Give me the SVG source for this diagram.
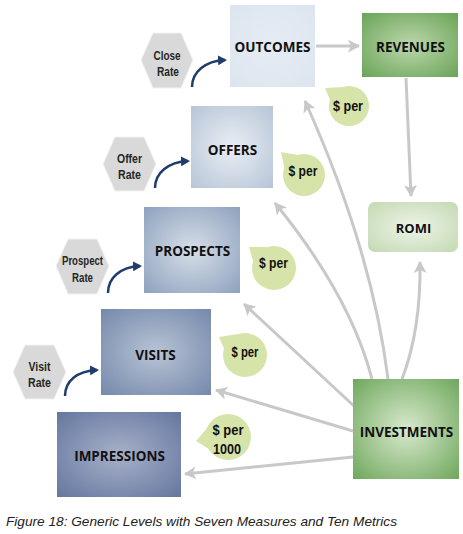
<svg xmlns="http://www.w3.org/2000/svg" width="463" height="534" viewBox="0 0 463 534">
<style>
.lbl{font-family:"Open Sans","Liberation Sans",sans-serif;font-weight:bold;font-size:13.5px;fill:#111;text-anchor:middle}
.hx{fill:#d9d9d9;stroke:#f2f2f2;stroke-width:1}
.ht{font-family:"Liberation Sans","DejaVu Sans Condensed",sans-serif;font-weight:bold;font-size:13.5px;fill:#262626;text-anchor:middle}
.bub{fill:#d6e4a9}
.bt{font-family:"Liberation Sans","DejaVu Sans Condensed",sans-serif;font-weight:bold;font-size:15px;fill:#111;text-anchor:middle}
.gc{fill:none;stroke:#c8c8c8;stroke-width:3;marker-end:url(#ga)}
.bc{fill:none;stroke:#1f3c6b;stroke-width:2.5;marker-end:url(#ba)}
.cap{font-family:"Liberation Sans",sans-serif;font-style:italic;font-size:13px;fill:#222}
</style>
<defs>
<marker id="ga" markerUnits="userSpaceOnUse" markerWidth="14" markerHeight="14" refX="11" refY="7" orient="auto" viewBox="0 0 14 14">
<path d="M0,0.5 L12,7 L0,13.5 L3,7 Z" fill="#c8c8c8"/>
</marker>
<marker id="ba" markerUnits="userSpaceOnUse" markerWidth="10" markerHeight="10" refX="7" refY="5" orient="auto" viewBox="0 0 10 10">
<path d="M0,0 L9,5 L0,10 Z" fill="#1f3c6b"/>
</marker>
<radialGradient id="gOut" cx="0.5" cy="0.5" r="0.7"><stop offset="0" stop-color="#e6ecf4"/><stop offset="1" stop-color="#dce5ef"/></radialGradient>
<radialGradient id="gOff" cx="0.5" cy="0.5" r="0.7"><stop offset="0" stop-color="#e9eef4"/><stop offset="1" stop-color="#b7c5d7"/></radialGradient>
<radialGradient id="gPro" cx="0.5" cy="0.5" r="0.7"><stop offset="0" stop-color="#d7dee8"/><stop offset="1" stop-color="#8ea2be"/></radialGradient>
<radialGradient id="gVis" cx="0.5" cy="0.5" r="0.7"><stop offset="0" stop-color="#b8c3d5"/><stop offset="1" stop-color="#7589ab"/></radialGradient>
<radialGradient id="gImp" cx="0.5" cy="0.5" r="0.7"><stop offset="0" stop-color="#a7b0c9"/><stop offset="1" stop-color="#65779f"/></radialGradient>
<radialGradient id="gRev" cx="0.5" cy="0.5" r="0.7"><stop offset="0" stop-color="#bcd7ab"/><stop offset="1" stop-color="#6aa458"/></radialGradient>
<radialGradient id="gInv" cx="0.5" cy="0.5" r="0.7"><stop offset="0" stop-color="#d9e9cd"/><stop offset="1" stop-color="#6fa85d"/></radialGradient>
<radialGradient id="gRomi" cx="0.5" cy="0.5" r="0.7"><stop offset="0" stop-color="#eef4e8"/><stop offset="1" stop-color="#c3d9b2"/></radialGradient>
</defs>

<g id="connectors">
<path class="gc" d="M316,46 L359,46"/>
<path class="gc" d="M406,78 L411,196"/>
<path class="gc" d="M402,379 Q421,330 420,262"/>
<path class="gc" d="M388,379 Q372,250 305,101"/>
<path class="gc" d="M372,379 Q350,295 275,203"/>
<path class="gc" d="M354,406 L244,304"/>
<path class="gc" d="M353,431 L216,390"/>
<path class="gc" d="M353,457 L185,474"/>
<path class="bc" d="M192,87 C192,72 205,61 225,60"/>
<path class="bc" d="M155,188 C155,173 168,162 188,161"/>
<path class="bc" d="M108,293 C108,278 120,267 140,266"/>
<path class="bc" d="M65,396 C65,381 77,371 97,370"/>
</g>

<g id="outcomes"><rect x="230" y="5" width="85" height="82" fill="url(#gOut)"/><text class="lbl" x="272.5" y="52">OUTCOMES</text></g>
<g id="revenues"><rect x="362" y="13" width="96" height="64" fill="url(#gRev)"/><text class="lbl" x="410.5" y="52">REVENUES</text></g>
<g id="romi"><rect x="368" y="202" width="90" height="50" rx="7" fill="url(#gRomi)"/><text class="lbl" x="413.5" y="233" style="font-size:13px">ROMI</text></g>
<g id="offers"><rect x="191" y="106" width="82" height="82" fill="url(#gOff)"/><text class="lbl" x="232.5" y="155">OFFERS</text></g>
<g id="prospects"><rect x="144" y="207" width="96" height="86" fill="url(#gPro)"/><text class="lbl" x="192.5" y="256">PROSPECTS</text></g>
<g id="visits"><rect x="101" y="309" width="110" height="86" fill="url(#gVis)"/><text class="lbl" x="155.5" y="360">VISITS</text></g>
<g id="impressions"><rect x="57" y="412" width="124" height="85" fill="url(#gImp)"/><text class="lbl" x="119.5" y="461">IMPRESSIONS</text></g>
<g id="investments"><rect x="353" y="379" width="106" height="100" fill="url(#gInv)"/><text class="lbl" x="406.5" y="437">INVESTMENTS</text></g>

<g id="close-rate"><polygon class="hx" points="141,60 153,33 181,33 193,60 181,88 153,88"/><text class="ht" x="167" y="60" textLength="27" lengthAdjust="spacingAndGlyphs">Close</text><text class="ht" x="168" y="76" textLength="22" lengthAdjust="spacingAndGlyphs">Rate</text></g>
<g id="offer-rate"><polygon class="hx" points="103,164 115,137 144,137 156,164 144,191 115,191"/><text class="ht" x="129.5" y="163" textLength="25" lengthAdjust="spacingAndGlyphs">Offer</text><text class="ht" x="129.5" y="179" textLength="23" lengthAdjust="spacingAndGlyphs">Rate</text></g>
<g id="prospect-rate"><polygon class="hx" points="56,266 68,239 97,239 109,266 97,294 68,294"/><text class="ht" x="82.5" y="265" textLength="41" lengthAdjust="spacingAndGlyphs">Prospect</text><text class="ht" x="82.5" y="282" textLength="21" lengthAdjust="spacingAndGlyphs">Rate</text></g>
<g id="visit-rate"><polygon class="hx" points="13,372 25,345 54,345 66,372 54,399 25,399"/><text class="ht" x="39.5" y="371" textLength="22" lengthAdjust="spacingAndGlyphs">Visit</text><text class="ht" x="39.5" y="387" textLength="23" lengthAdjust="spacingAndGlyphs">Rate</text></g>

<g id="bubble-outcomes"><circle class="bub" cx="349" cy="106" r="20"/><path class="bub" d="M331,102 L325,88 L343,87 Z"/><text class="bt" x="348" y="111" textLength="30" lengthAdjust="spacingAndGlyphs">$ per</text></g>
<g id="bubble-offers"><circle class="bub" cx="304" cy="175" r="21"/><path class="bub" d="M285,171 L281,152 L298,155 Z"/><text class="bt" x="303" y="176" textLength="29" lengthAdjust="spacingAndGlyphs">$ per</text></g>
<g id="bubble-prospects"><circle class="bub" cx="274" cy="268" r="22"/><path class="bub" d="M254,264 L249,247 L267,247 Z"/><text class="bt" x="273.5" y="268" textLength="29" lengthAdjust="spacingAndGlyphs">$ per</text></g>
<g id="bubble-visits"><circle class="bub" cx="245" cy="355" r="22"/><path class="bub" d="M225,351 L219,337 L238,334 Z"/><text class="bt" x="245" y="357" textLength="27" lengthAdjust="spacingAndGlyphs">$ per</text></g>
<g id="bubble-impressions"><circle class="bub" cx="228" cy="437" r="23"/><path class="bub" d="M208,427 L196,441 L209,449 Z"/><text class="bt" x="228" y="435" textLength="31" lengthAdjust="spacingAndGlyphs">$ per</text><text class="bt" x="227" y="454" textLength="28" lengthAdjust="spacingAndGlyphs">1000</text></g>

<text class="cap" x="6" y="526" textLength="391" lengthAdjust="spacingAndGlyphs">Figure 18: Generic Levels with Seven Measures and Ten Metrics</text>
</svg>
